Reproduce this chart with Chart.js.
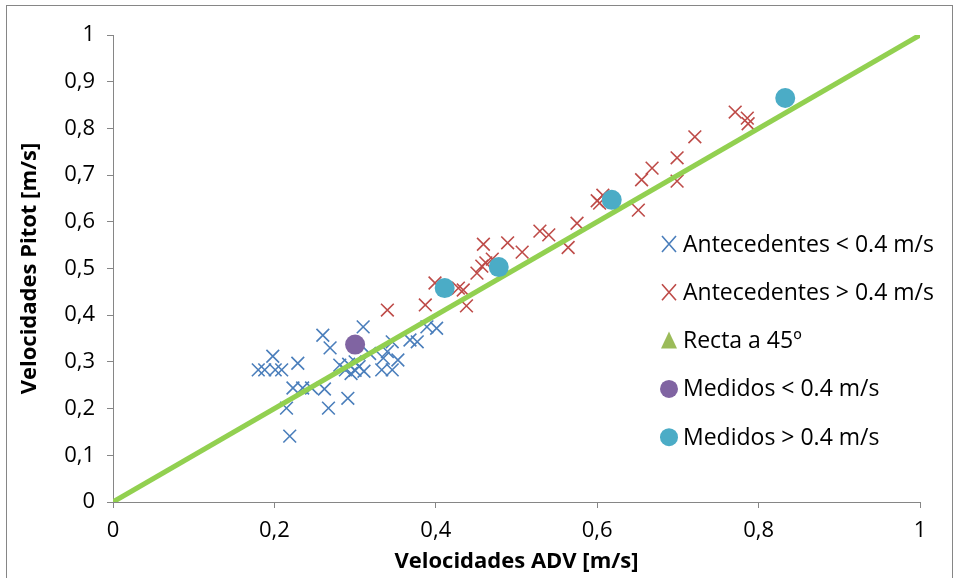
<!DOCTYPE html>
<html>
<head>
<meta charset="utf-8">
<script src="https://cdn.jsdelivr.net/npm/chart.js@4.4.1/dist/chart.umd.min.js"></script>
<style>
  html, body { margin: 0; padding: 0; background: #fff; }
  #wrap { width: 958px; height: 578px; }
</style>
</head>
<body>
<div id="wrap"><canvas id="velChart" width="958" height="578"></canvas></div>
<script>
// Antecedentes < 0.4 m/s  [ADV, Pitot]
const antBajos = [
  [0.180, 0.283], [0.188, 0.283], [0.198, 0.312], [0.201, 0.283], [0.209, 0.283],
  [0.229, 0.297], [0.223, 0.244], [0.235, 0.244], [0.246, 0.244], [0.262, 0.242],
  [0.215, 0.201], [0.267, 0.201], [0.291, 0.222], [0.219, 0.141], [0.260, 0.357],
  [0.269, 0.330], [0.310, 0.375], [0.281, 0.293], [0.288, 0.283], [0.295, 0.275],
  [0.300, 0.282], [0.305, 0.290], [0.311, 0.280], [0.300, 0.300], [0.292, 0.295],
  [0.333, 0.283], [0.318, 0.318], [0.335, 0.308], [0.346, 0.343], [0.353, 0.304],
  [0.346, 0.283], [0.368, 0.347], [0.377, 0.343], [0.389, 0.375], [0.401, 0.372],
  [0.340, 0.322]
];

// Antecedentes > 0.4 m/s
const antAltos = [
  [0.340, 0.411], [0.387, 0.422], [0.399, 0.469], [0.428, 0.458], [0.438, 0.420],
  [0.434, 0.454], [0.451, 0.490], [0.457, 0.505], [0.462, 0.512], [0.459, 0.552],
  [0.489, 0.555], [0.507, 0.535], [0.529, 0.580], [0.540, 0.572], [0.564, 0.545],
  [0.575, 0.597], [0.600, 0.645], [0.607, 0.657], [0.603, 0.640], [0.651, 0.625],
  [0.655, 0.690], [0.668, 0.715], [0.699, 0.737], [0.699, 0.687], [0.721, 0.782],
  [0.771, 0.835], [0.786, 0.822], [0.787, 0.810], [0.470, 0.520]
];

const recta45 = [[0, 0], [1, 1]];
const medBajos = [[0.300, 0.337]];
const medAltos = [[0.411, 0.458], [0.478, 0.503], [0.618, 0.647], [0.833, 0.865]];

const xTicks = [0, 0.2, 0.4, 0.6, 0.8, 1];
const yTicks = [0, 0.1, 0.2, 0.3, 0.4, 0.5, 0.6, 0.7, 0.8, 0.9, 1];

const toXY = arr => arr.map(p => ({ x: p[0], y: p[1] }));
const coma = v => String(Number(v.toFixed(1))).replace('.', ',');

const FONT = '"Open Sans", Lato, sans-serif';
const AXIS_GREY = '#868686';

const series = [
  { label: 'Antecedentes < 0.4 m/s', data: toXY(antBajos), color: '#4a7ebb', style: 'crossRot', order: 5 },
  { label: 'Antecedentes > 0.4 m/s', data: toXY(antAltos), color: '#be4b48', style: 'crossRot', order: 4 },
  { label: 'Recta a 45º', data: toXY(recta45), color: '#92d050', legendColor: '#9bbb59', style: 'triangle', order: 3, line: true },
  { label: 'Medidos < 0.4 m/s', data: toXY(medBajos), color: '#8064a2', style: 'circle', order: 2 },
  { label: 'Medidos > 0.4 m/s', data: toXY(medAltos), color: '#4bacc6', style: 'circle', order: 1 }
];

const datasets = series.map(s => {
  if (s.line) {
    return {
      type: 'line', label: s.label, data: s.data, order: s.order,
      borderColor: s.color, borderWidth: 5, pointRadius: 0, tension: 0
    };
  }
  const cross = s.style === 'crossRot';
  return {
    type: 'scatter', label: s.label, data: s.data, order: s.order,
    pointStyle: s.style,
    pointRadius: cross ? 9 : 10,
    pointBorderWidth: cross ? 1.6 : 0,
    borderColor: s.color,
    backgroundColor: s.color
  };
});

// legend inside the plot, to the right of the line
const legendBox = {
  id: 'legendBox',
  afterDraw(chart) {
    const c = chart.ctx;
    const area = chart.chartArea;
    const x0 = area.left + 556;
    const y0 = area.top + 209;
    c.save();
    c.font = '23px ' + FONT;
    c.textBaseline = 'middle';
    series.forEach((s, i) => {
      const y = y0 + i * 48.3;
      const col = s.legendColor || s.color;
      c.strokeStyle = col;
      c.fillStyle = col;
      if (s.style === 'crossRot') {
        c.lineWidth = 1.6;
        c.beginPath();
        c.moveTo(x0 - 7, y - 8); c.lineTo(x0 + 7, y + 8);
        c.moveTo(x0 + 7, y - 8); c.lineTo(x0 - 7, y + 8);
        c.stroke();
      } else if (s.style === 'triangle') {
        c.beginPath();
        c.moveTo(x0, y - 9); c.lineTo(x0 + 8, y + 8); c.lineTo(x0 - 8, y + 8);
        c.closePath(); c.fill();
      } else {
        c.beginPath();
        c.arc(x0, y, 9, 0, Math.PI * 2);
        c.fill();
      }
      c.fillStyle = '#000';
      c.fillText(s.label, x0 + 14, y + 1);
    });
    // outer frame
    c.strokeStyle = AXIS_GREY;
    c.lineWidth = 1;
    c.strokeRect(6.5, 5.5, 946, 590);
    c.restore();
  }
};

new Chart(document.getElementById('velChart'), {
  data: { datasets: datasets },
  options: {
    responsive: false,
    animation: false,
    layout: { padding: { top: 35, right: 38, left: 0, bottom: 0 } },
    plugins: { legend: { display: false }, tooltip: { enabled: false } },
    scales: {
      x: {
        type: 'linear', min: 0, max: 1,
        afterBuildTicks: ax => { ax.ticks = xTicks.map(v => ({ value: v })); },
        afterFit: ax => { ax.height = 76; },
        ticks: { callback: coma, color: '#000', font: { family: FONT, size: 22 }, padding: 10, maxRotation: 0 },
        grid: { drawOnChartArea: false, color: AXIS_GREY, tickLength: 6 },
        border: { color: AXIS_GREY, width: 1 },
        title: {
          display: true, text: 'Velocidades ADV [m/s]', color: '#000',
          font: { family: FONT, size: 22, weight: 'bold' }, padding: { top: 0, bottom: 3 }
        }
      },
      y: {
        type: 'linear', min: 0, max: 1,
        afterBuildTicks: ax => { ax.ticks = yTicks.map(v => ({ value: v })); },
        afterFit: ax => { ax.width = 113; },
        ticks: { callback: coma, color: '#000', font: { family: FONT, size: 22 }, padding: 12 },
        grid: { drawOnChartArea: false, color: AXIS_GREY, tickLength: 6 },
        border: { color: AXIS_GREY, width: 1 },
        title: {
          display: true, text: 'Velocidades Pitot [m/s]', color: '#000',
          font: { family: FONT, size: 22, weight: 'bold' }, padding: { top: 17, bottom: 0 }
        }
      }
    }
  },
  plugins: [legendBox]
});
</script>
</body>
</html>
